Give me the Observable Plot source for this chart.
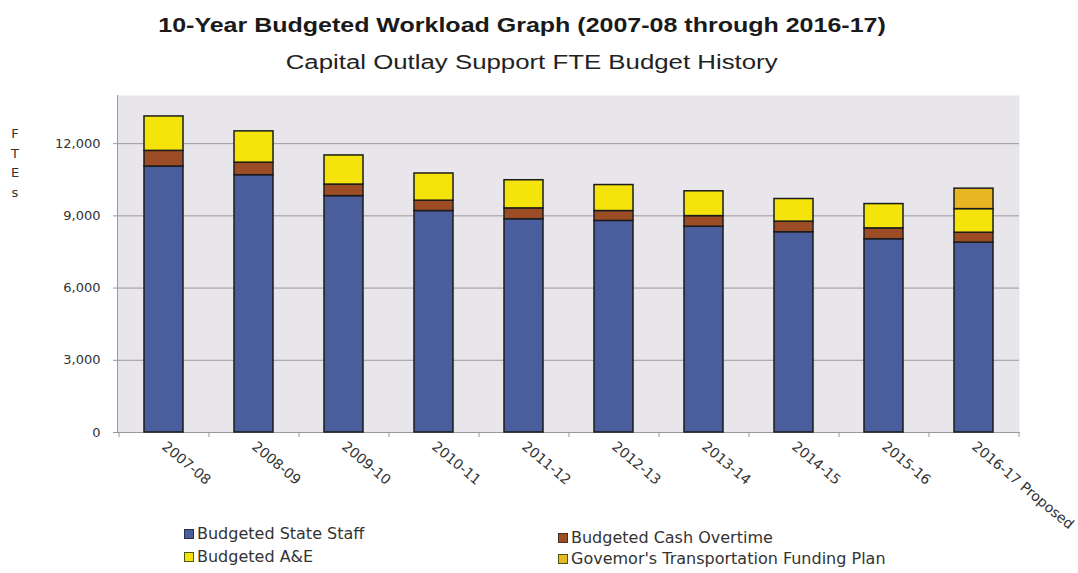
<!DOCTYPE html>
<html>
<head>
<meta charset="utf-8">
<script src="https://cdn.jsdelivr.net/npm/d3@7"></script>
<script src="https://cdn.jsdelivr.net/npm/@observablehq/plot@0.6"></script>
<style>
  html, body { margin: 0; padding: 0; background: #ffffff; }
  #wrap { position: relative; width: 1078px; height: 573px; overflow: hidden; font-family: "Liberation Sans", Arial, sans-serif; }
  #head { height: 84px; position: relative; }
  .hl { position: absolute; left: 0; width: 1078px; text-align: center; }
  .hl span { display: inline-block; transform-origin: center; }
  #title { top: 14px; font-weight: bold; font-size: 20px; color: #1a1a1a; margin-left: -17px; }
  #title span { transform: scaleX(1.25); }
  #subtitle { top: 51px; font-size: 20px; color: #222; margin-left: -7px; }
  #subtitle span { transform: scaleX(1.29); }
  #ylab { position: absolute; left: 9px; top: 124px; width: 12px; text-align: center; font-family: "DejaVu Sans", sans-serif; font-size: 13px; line-height: 19.5px; color: #333; }
  #chart svg { overflow: visible; display: block; }
  #legend { position: relative; height: 55px; font-family: "DejaVu Sans", sans-serif; font-size: 16px; color: #333; }
  .item { position: absolute; display: flex; align-items: center; white-space: nowrap; }
  .sw { width: 8px; height: 8px; border: 1.5px solid #333; margin-right: 3px; }
</style>
</head>
<body>
<div id="wrap">
  <div id="head">
    <div id="title" class="hl"><span>10-Year Budgeted Workload Graph (2007-08 through 2016-17)</span></div>
    <div id="subtitle" class="hl"><span>Capital Outlay Support FTE Budget History</span></div>
  </div>
  <div id="ylab">F<br>T<br>E<br>s</div>
  <div id="chart"></div>
  <div id="legend"></div>
</div>
<script>
// ---- data ----
const years = ["2007-08", "2008-09", "2009-10", "2010-11", "2011-12", "2012-13", "2013-14", "2014-15", "2015-16", "2016-17 Proposed"];
const stateStaff    = [11050, 10690, 9820, 9200, 8860, 8790, 8550, 8320, 8030, 7890];
const cashOvertime  = [650, 520, 480, 430, 450, 410, 440, 440, 450, 410];
const aAndE         = [1430, 1300, 1210, 1130, 1170, 1080, 1030, 940, 1010, 980];
const governorsPlan = [0, 0, 0, 0, 0, 0, 0, 0, 0, 850];
const seriesNames = ["Budgeted State Staff", "Budgeted Cash Overtime", "Budgeted A&E", "Governor's Transportation Funding Plan"];
const legendLabels = ["Budgeted State Staff", "Budgeted Cash Overtime", "Budgeted A&E", "Govemor's Transportation Funding Plan"];
const seriesColors = ["#4a5d9c", "#9c4d26", "#f4e40c", "#e8b622"];
const legendBorders = ["#2a2f4a", "#4a3020", "#4a5a10", "#4a5a10"];
const yTicks = [0, 3000, 6000, 9000, 12000];
const yMax = 14000;

const seriesValues = [stateStaff, cashOvertime, aAndE, governorsPlan];
const table = [];
years.forEach((yr, i) => {
  seriesNames.forEach((s, k) => {
    const v = seriesValues[k][i];
    if (v > 0) table.push({year: yr, series: s, value: v});
  });
});

const chart = Plot.plot({
  width: 1078,
  height: 434,
  marginTop: 11,
  marginBottom: 86,
  marginLeft: 117,
  marginRight: 59,
  style: {fontFamily: "DejaVu Sans, sans-serif", fontSize: "14px", color: "#333", background: "transparent"},
  x: {domain: years, paddingInner: 0.57, paddingOuter: 0.285, label: null},
  y: {domain: [0, yMax], label: null},
  color: {domain: seriesNames, range: seriesColors},
  marks: [
    Plot.frame({fill: "#e8e6eb", stroke: null}),
    Plot.gridY(yTicks.filter(d => d > 0), {stroke: "#9c989e", strokeOpacity: 1, strokeWidth: 1}),
    Plot.frame({anchor: "left", stroke: "#9a9a9a"}),
    Plot.frame({anchor: "bottom", stroke: "#9a9a9a"}),
    // small category-boundary ticks below the axis
    Plot.ruleX(years, {x: d => d, dx: -45, y1: 0, y2: 0, insetBottom: -5, stroke: "#9a9a9a"}),
    Plot.ruleX(years.slice(-1), {x: d => d, dx: 45, y1: 0, y2: 0, insetBottom: -5, stroke: "#9a9a9a"}),
    Plot.barY(table, {x: "year", y: "value", fill: "series", stroke: "#1c1c1c", strokeWidth: 1.5}),
    Plot.axisY({ticks: yTicks, tickFormat: d3.format(",.0f"), tickSize: 4, tickPadding: 13, fontSize: 13, stroke: "#9a9a9a", fill: "#333"}),
    Plot.axisX({tickSize: 0, tickPadding: 12, tickRotate: 40, fontSize: 14, fill: "#333"})
  ]
});
document.getElementById("chart").appendChild(chart);

// legend (2 columns x 2 rows)
const legend = document.getElementById("legend");
const pos = [[184, 6], [558, 10], [184, 29], [558, 31]];
legendLabels.forEach((lab, k) => {
  const it = document.createElement("div");
  it.className = "item";
  it.style.left = pos[k][0] + "px";
  it.style.top = pos[k][1] + "px";
  const sw = document.createElement("span");
  sw.className = "sw";
  sw.style.background = seriesColors[k];
  sw.style.borderColor = legendBorders[k];
  const tx = document.createElement("span");
  tx.textContent = lab;
  it.appendChild(sw);
  it.appendChild(tx);
  legend.appendChild(it);
});
</script>
</body>
</html>
